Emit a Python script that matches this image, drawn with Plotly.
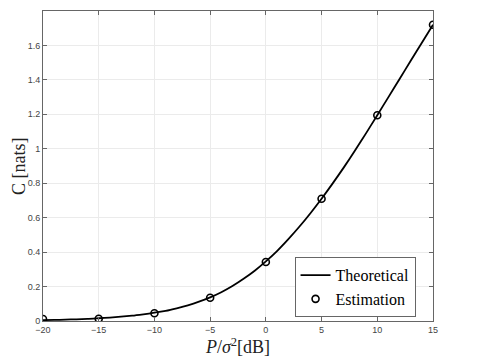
import plotly.graph_objects as go

# Theoretical capacity curve (1 dB steps)
snr_db = list(range(-20, 16))
c_theory = [0.005, 0.006, 0.008, 0.010, 0.012, 0.016, 0.020, 0.025, 0.031, 0.039,
            0.048, 0.059, 0.074, 0.091, 0.112, 0.137, 0.167, 0.203, 0.245, 0.292,
            0.346, 0.406, 0.474, 0.547, 0.626, 0.710, 0.799, 0.892, 0.990, 1.091,
            1.195, 1.300, 1.405, 1.511, 1.616, 1.720]

# Estimated points
est_db = [-20, -15, -10, -5, 0, 5, 10, 15]
c_est = [0.012, 0.013, 0.045, 0.135, 0.343, 0.710, 1.195, 1.720]

x_ticks = [-20, -15, -10, -5, 0, 5, 10, 15]
y_ticks = [0, 0.2, 0.4, 0.6, 0.8, 1, 1.2, 1.4, 1.6, 1.8]
y_labels = ["0", "0.2", "0.4", "0.6", "0.8", "1", "1.2", "1.4", "1.6", "1.8"]

serif = "Liberation Serif, DejaVu Serif, serif"
sans = "Liberation Sans, Arial, sans-serif"

fig = go.Figure()
fig.add_trace(go.Scatter(x=snr_db, y=c_theory, mode="lines", name="Theoretical",
                         line=dict(color="black", width=1.8, shape="spline", smoothing=0.6)))
fig.add_trace(go.Scatter(x=est_db, y=c_est, mode="markers", name="Estimation",
                         marker=dict(symbol="circle-open", size=7, color="black",
                                     line=dict(width=1.6, color="black"))))

axis_common = dict(
    showgrid=True, gridcolor="#ebebeb", gridwidth=1,
    showline=True, linecolor="#666666", linewidth=1, mirror="ticks",
    ticks="inside", ticklen=4, tickcolor="#666666",
    tickfont=dict(family=sans, size=9, color="#444444"),
    zeroline=False, automargin=False,
)

fig.update_xaxes(range=[-20, 15], tickvals=x_ticks, **axis_common,
                 title=dict(text="<i>P</i>/<i>σ</i><sup>2</sup>[dB]",
                            font=dict(family=serif, size=18, color="#222222"),
                            standoff=2))
fig.update_yaxes(range=[0, 1.8], tickvals=y_ticks, ticktext=y_labels, **axis_common)

# y title as an annotation so it sits left of the tick labels
fig.add_annotation(text="C [nats]", textangle=-90, xref="paper", yref="paper",
                   x=0, y=0.5, xanchor="center", yanchor="middle", xshift=-24,
                   showarrow=False, font=dict(family=serif, size=18, color="#222222"))

# page body adds a small margin, so the figure is a bit smaller than the window
fig.update_layout(
    width=471, height=355,
    margin=dict(l=35, r=46, t=3, b=42),
    plot_bgcolor="white", paper_bgcolor="white",
    showlegend=True,
    legend=dict(x=0.645, y=0.206, xanchor="left", yanchor="top",
                bgcolor="white", bordercolor="#666666", borderwidth=1,
                font=dict(family=serif, size=16, color="black"),
                tracegroupgap=0, itemwidth=30),
)

fig.write_html("out.html")
